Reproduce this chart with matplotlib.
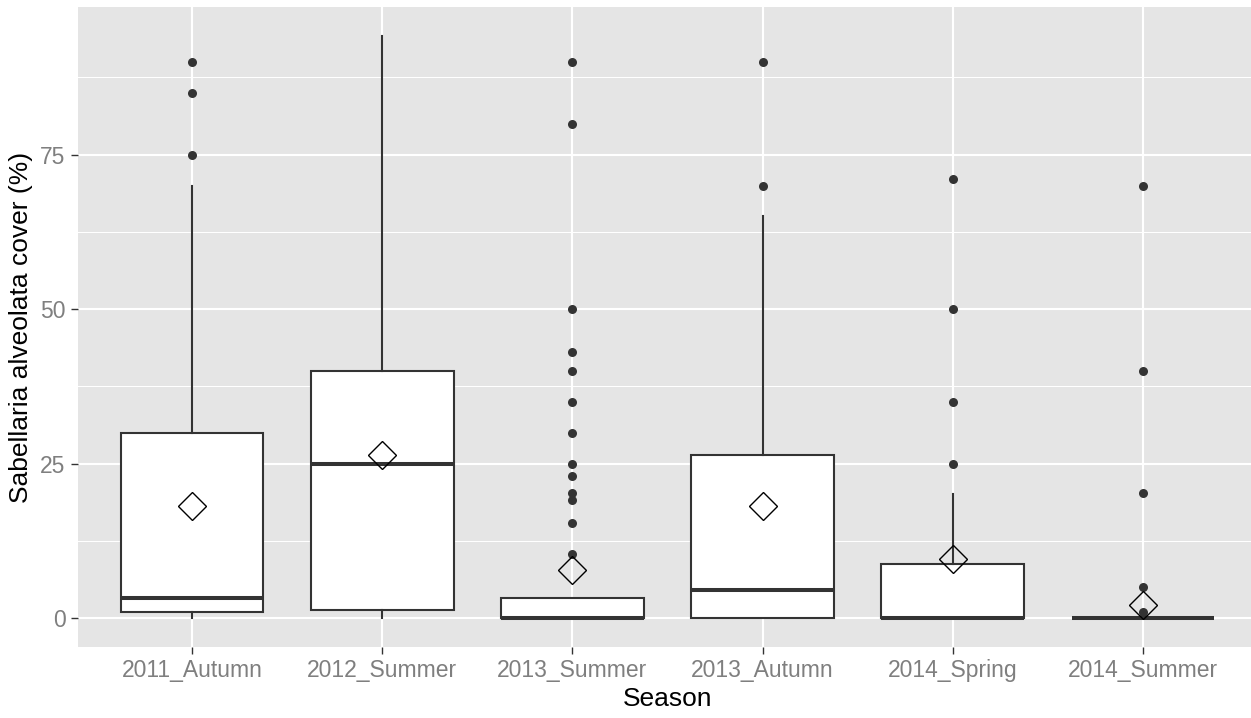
import numpy as np
import matplotlib
matplotlib.use("Agg")
from matplotlib import pyplot as plt

plt.rcParams['font.family'] = ['Liberation Sans', 'DejaVu Sans']

# box statistics (percent cover)
seasons = ["2011_Autumn", "2012_Summer", "2013_Summer",
           "2013_Autumn", "2014_Spring", "2014_Summer"]
whislo = [0, 0, 0, 0, 0, 0]
q1 = [1.0, 1.3, 0, 0, 0, 0]
med = [3.3, 25.0, 0, 4.6, 0, 0]
q3 = [30.0, 40.0, 3.2, 26.3, 8.7, 0]
whishi = [70.0, 94.2, 3.2, 65.0, 20.0, 0]
means = [18.2, 26.4, 7.8, 18.2, 9.5, 2.1]
outliers = [
    [90, 85, 75],
    [],
    [90, 80, 50, 43, 40, 35, 30, 25, 23, 20.3, 19.1, 15.3, 10.3],
    [90, 70],
    [71, 50, 35, 25],
    [70, 40, 20.3, 5, 1],
]

stats = []
for i, s in enumerate(seasons):
    stats.append(dict(label=s, whislo=whislo[i], q1=q1[i], med=med[i],
                      q3=q3[i], whishi=whishi[i], mean=means[i],
                      fliers=np.array(outliers[i], dtype=float)))

fig = plt.figure(figsize=(12.51, 7.18), dpi=100)
# panel spans x 0.4..6.6 like ggplot's discrete expansion
ax = fig.add_axes([77.9 / 1251, 71 / 718, 1179.2 / 1251, 640 / 718])
ax.set_facecolor('#E5E5E5')

line_col = '#333333'
ax.bxp(stats, positions=range(1, 7), widths=0.75, patch_artist=True,
       showmeans=True, showcaps=False,
       boxprops=dict(facecolor='white', edgecolor=line_col, linewidth=1.5),
       whiskerprops=dict(color=line_col, linewidth=1.5),
       medianprops=dict(color=line_col, linewidth=2.9),
       meanprops=dict(marker='D', markersize=14, markerfacecolor='none',
                      markeredgecolor='black', markeredgewidth=1.0),
       flierprops=dict(marker='o', markersize=6.5, markerfacecolor=line_col,
                       markeredgecolor='none'))

ax.set_xlim(0.4, 6.6)
ax.set_ylim(-4.7, 98.9)
ax.set_yticks([0, 25, 50, 75])
ax.set_yticks([12.5, 37.5, 62.5, 87.5], minor=True)
ax.set_xticks(range(1, 7))
ax.set_xticklabels(seasons)

ax.set_axisbelow(True)
ax.grid(which='major', color='white', linewidth=1.5)
ax.grid(which='minor', axis='y', color='white', linewidth=0.75)
for sp in ax.spines.values():
    sp.set_visible(False)

ax.tick_params(which='major', length=5, width=1, color=line_col,
               labelsize=16.5, labelcolor='#7F7F7F', pad=4)
ax.tick_params(which='minor', length=0)

ax.set_xlabel("Season", fontsize=19)
ax.set_ylabel("Sabellaria alveolata cover (%)", fontsize=19)
ax.xaxis.set_label_coords(0.5, -0.0625)
ax.yaxis.set_label_coords(-0.0377, 0.5)

fig.savefig("out.png", dpi=100)
